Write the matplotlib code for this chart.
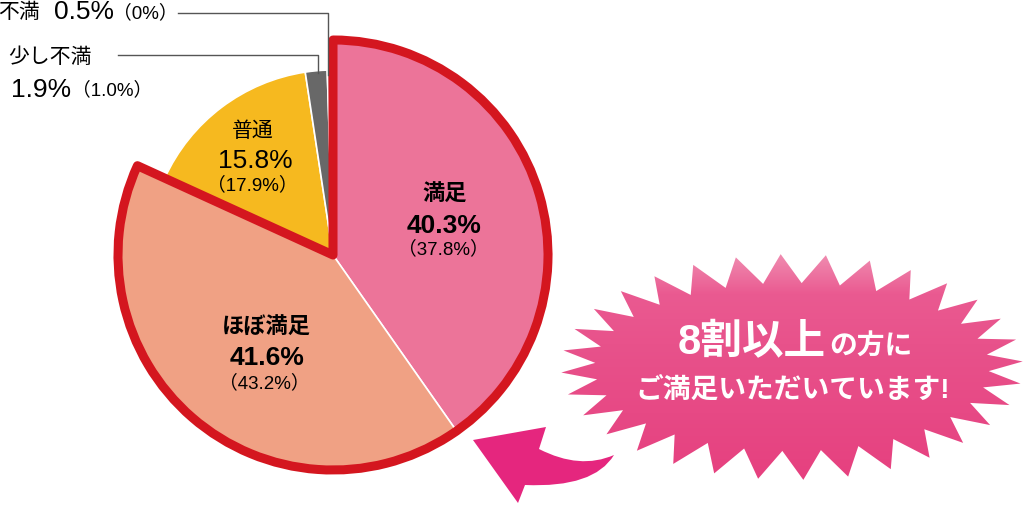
import numpy as np
import matplotlib
matplotlib.use("Agg")
import matplotlib.pyplot as plt
from matplotlib.patches import Wedge, Polygon, PathPatch
from matplotlib.path import Path

plt.rcParams['font.family'] = ['Liberation Sans', 'Noto Sans CJK JP', 'DejaVu Sans']

# data
categories = ['満足', 'ほぼ満足', '普通', '少し不満', '不満']
values = [40.3, 41.6, 15.8, 1.9, 0.5]
previous = ['37.8%', '43.2%', '17.9%', '1.0%', '0%']
colors = ['#EC7499', '#F0A184', '#F6B91F', '#686868', '#A8A8A8']

W, H = 1024, 505
fig = plt.figure(figsize=(W / 100, H / 100), dpi=100)
ax = fig.add_axes([0, 0, 1, 1])


def Y(y):
    # image row -> data y
    return H - y


cx, cy = 333, Y(255)
R_big, R_small = 215, 185

wedges, _ = ax.pie(values, radius=R_big, center=(cx, cy), startangle=90,
                   counterclock=False, colors=colors,
                   wedgeprops=dict(edgecolor='white', linewidth=1.2))
for w in wedges[2:]:
    w.set_radius(R_small)

# red outline around the two "satisfied" slices
frac = (values[0] + values[1]) / sum(values)
ax.add_patch(Wedge((cx, cy), R_big, 90 - frac * 360, 90, fill=False,
                   edgecolor='#D4161F', linewidth=6.5, joinstyle='round'))

# slice labels
small = 13.5
ax.text(445, Y(195), categories[0], ha='center', va='center', fontsize=16, fontweight='bold')
ax.text(444, Y(226), f'{values[0]}%', ha='center', va='center', fontsize=19, fontweight='bold')
ax.text(443, Y(249), f'（{previous[0]}）', ha='center', va='center', fontsize=small)

ax.text(266, Y(328), categories[1], ha='center', va='center', fontsize=16, fontweight='bold')
ax.text(267, Y(358), f'{values[1]}%', ha='center', va='center', fontsize=19, fontweight='bold')
ax.text(264, Y(383), f'（{previous[1]}）', ha='center', va='center', fontsize=small)

ax.text(253, Y(131), categories[2], ha='center', va='center', fontsize=15)
ax.text(255, Y(161), f'{values[2]}%', ha='center', va='center', fontsize=19)
ax.text(252, Y(185), f'（{previous[2]}）', ha='center', va='center', fontsize=small)

ax.text(8, Y(57), categories[3], ha='left', va='center', fontsize=15)
ax.text(11, Y(90), f'{values[3]}%', ha='left', va='center', fontsize=19)
ax.text(72, Y(90), f'（{previous[3]}）', ha='left', va='center', fontsize=small)

ax.text(-2, Y(12), categories[4], ha='left', va='center', fontsize=15)
ax.text(54, Y(12), f'{values[4]}%', ha='left', va='center', fontsize=19)
ax.text(113, Y(13), f'（{previous[4]}）', ha='left', va='center', fontsize=small)

# leader lines
ax.plot([178, 328, 328], [Y(13), Y(13), Y(75)], color='#555555', lw=1)
ax.plot([118, 318, 318], [Y(55), Y(55), Y(73)], color='#555555', lw=1)

# starburst
bx, by = 792, Y(367)
n = 32
ang = np.linspace(0, 2 * np.pi, 2 * n, endpoint=False) + np.pi / n / 2
ra = np.where(np.arange(2 * n) % 2 == 0, 231, 197)
rb = np.where(np.arange(2 * n) % 2 == 0, 113, 84)
pts = np.column_stack([bx + ra * np.cos(ang), by + rb * np.sin(ang)])
star = Polygon(pts, closed=True, facecolor='none', edgecolor='none')
ax.add_patch(star)
grad = np.linspace(0, 1, 256).reshape(-1, 1)
cmap = matplotlib.colors.LinearSegmentedColormap.from_list(
    'burst', [(0, '#E6407F'), (0.6, '#E8528B'), (0.82, '#EA5A91'), (1, '#F08FB2')])
im = ax.imshow(grad, cmap=cmap, aspect='auto', origin='lower',
               extent=[bx - 235, bx + 235, by - 115, by + 115], zorder=1)
im.set_clip_path(star)

ax.text(826, Y(343), '8割以上', ha='right', va='center', fontsize=30,
        fontweight='bold', color='white', zorder=3)
ax.text(829, Y(347), 'の方に', ha='left', va='center', fontsize=20,
        fontweight='bold', color='white', zorder=3)
ax.text(793, Y(391), 'ご満足いただいています!', ha='center', va='center',
        fontsize=20, fontweight='bold', color='white', zorder=3)

# curved arrow
arrow_pts = [(473, 440), (546, 427), (539, 449), (580, 470), (614, 455),
             (594, 488), (525, 485), (518, 503), (473, 440)]
codes = [Path.MOVETO, Path.LINETO, Path.LINETO, Path.CURVE3, Path.CURVE3,
         Path.CURVE3, Path.CURVE3, Path.LINETO, Path.CLOSEPOLY]
arrow = Path([(x, Y(y)) for x, y in arrow_pts], codes)
ax.add_patch(PathPatch(arrow, facecolor='#E5267E', edgecolor='none', zorder=2))

ax.set_xlim(0, W)
ax.set_ylim(0, H)
ax.set_aspect('equal')
ax.axis('off')
fig.savefig('out.png', dpi=100)
